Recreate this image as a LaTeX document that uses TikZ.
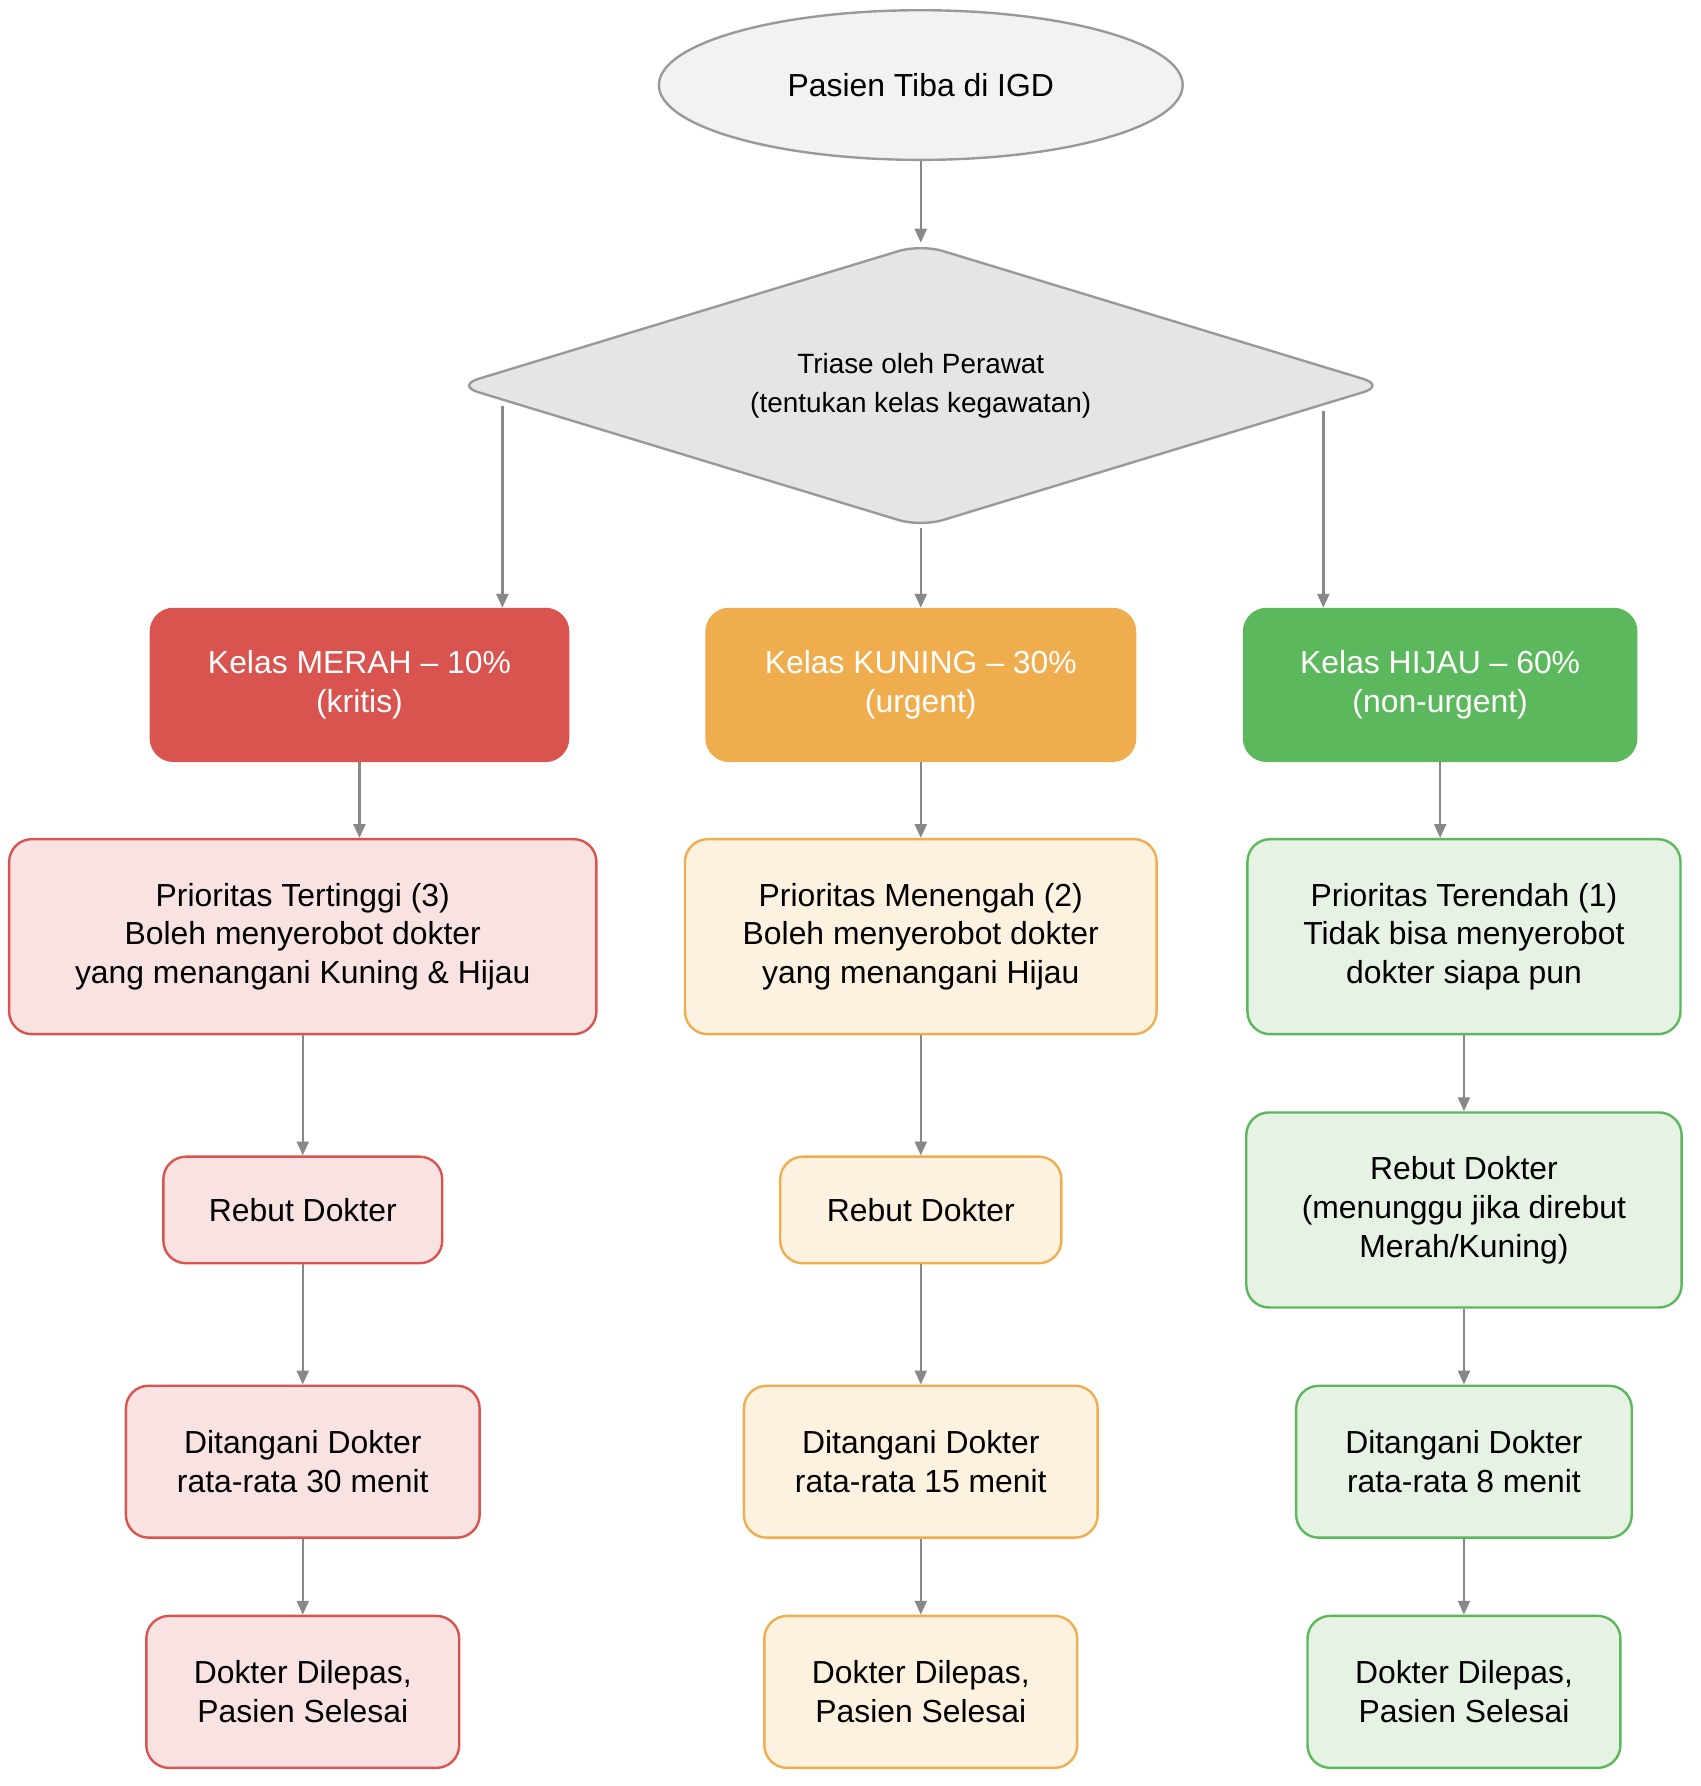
\documentclass[tikz,border=0pt]{standalone}
\usepackage{fontspec}
\setmainfont{Liberation Sans}
\usetikzlibrary{shapes.geometric,arrows.meta,positioning}
\definecolor{edgegray}{HTML}{888888}
\definecolor{linegray}{HTML}{999999}
\definecolor{merah}{HTML}{D9534F}
\definecolor{kuning}{HTML}{F0AD4E}
\definecolor{hijau}{HTML}{5CB85C}
\definecolor{merahlt}{HTML}{F9E2E2}
\definecolor{kuninglt}{HTML}{FDF1E0}
\definecolor{hijault}{HTML}{E6F2E4}
\tikzset{
  box/.style={rectangle, rounded corners=0.4cm, line width=1.2pt, inner sep=0pt, align=center, font=\fontsize{16}{19.5}\selectfont},
  kelas/.style={box, fill=#1, draw=#1, text=white, minimum height=2.68cm},
  langkah/.style={box, fill=#1lt, draw=#1},
  arr/.style={-{Triangle[length=7pt,width=6pt]}, edgegray, line width=1.2pt}
}
\begin{document}
\begin{tikzpicture}[x=0.02cm,y=0.02cm]
\useasboundingbox (0,0) rectangle (1500,-1575);
% start and triage
\node[ellipse, fill=black!5, draw=linegray, line width=1.2pt, minimum width=9.24cm, minimum height=2.64cm, font=\fontsize{16}{19.5}\selectfont] (start) at (812,-75) {Pasien Tiba di IGD};
\node[diamond, rounded corners=0.4cm, fill=black!10, draw=linegray, line width=1.2pt, minimum width=16.4cm, minimum height=5cm, inner sep=0pt, aspect=3.28, align=center, font=\fontsize{14}{19.5}\selectfont] (triase) at (812,-340) {Triase oleh Perawat\\(tentukan kelas kegawatan)};
% kelas
\node[kelas=merah, minimum width=7.36cm] (m1) at (317,-604) {Kelas MERAH -- 10\%\\(kritis)};
\node[kelas=kuning, minimum width=7.56cm] (k1) at (812,-604) {Kelas KUNING -- 30\%\\(urgent)};
\node[kelas=hijau, minimum width=6.92cm] (h1) at (1270,-604) {Kelas HIJAU -- 60\%\\(non-urgent)};
% prioritas
\node[langkah=merah, minimum width=10.36cm, minimum height=3.44cm] (m2) at (267,-826) {Prioritas Tertinggi (3)\\Boleh menyerobot dokter\\yang menangani Kuning \& Hijau};
\node[langkah=kuning, minimum width=8.32cm, minimum height=3.44cm] (k2) at (812,-826) {Prioritas Menengah (2)\\Boleh menyerobot dokter\\yang menangani Hijau};
\node[langkah=hijau, minimum width=7.64cm, minimum height=3.44cm] (h2) at (1291,-826) {Prioritas Terendah (1)\\Tidak bisa menyerobot\\dokter siapa pun};
% rebut
\node[langkah=merah, minimum width=4.92cm, minimum height=1.88cm] (m3) at (267,-1067) {Rebut Dokter};
\node[langkah=kuning, minimum width=4.96cm, minimum height=1.88cm] (k3) at (812,-1067) {Rebut Dokter};
\node[langkah=hijau, minimum width=7.68cm, minimum height=3.44cm] (h3) at (1291,-1067) {Rebut Dokter\\(menunggu jika direbut\\Merah/Kuning)};
% ditangani
\node[langkah=merah, minimum width=6.24cm, minimum height=2.68cm] (m4) at (267,-1289) {Ditangani Dokter\\rata-rata 30 menit};
\node[langkah=kuning, minimum width=6.24cm, minimum height=2.68cm] (k4) at (812,-1289) {Ditangani Dokter\\rata-rata 15 menit};
\node[langkah=hijau, minimum width=5.92cm, minimum height=2.68cm] (h4) at (1291,-1289) {Ditangani Dokter\\rata-rata 8 menit};
% selesai
\node[langkah=merah, minimum width=5.52cm, minimum height=2.68cm] (m5) at (267,-1492) {Dokter Dilepas,\\Pasien Selesai};
\node[langkah=kuning, minimum width=5.52cm, minimum height=2.68cm] (k5) at (812,-1492) {Dokter Dilepas,\\Pasien Selesai};
\node[langkah=hijau, minimum width=5.52cm, minimum height=2.68cm] (h5) at (1291,-1492) {Dokter Dilepas,\\Pasien Selesai};
% connectors
\coordinate (tl) at (443,-358);
\coordinate (tr) at (1167,-362);
\draw[arr] (start) -- (triase);
\draw[arr] (tl) -- (tl |- m1.north);
\draw[arr] (triase) -- (k1);
\draw[arr] (tr) -- (tr |- h1.north);
\foreach \c in {m,k,h} {
  \draw[arr] (\c1.south) -- (\c1.south |- \c2.north);
  \draw[arr] (\c2) -- (\c3);
  \draw[arr] (\c3) -- (\c4);
  \draw[arr] (\c4) -- (\c5);
}
\end{tikzpicture}
\end{document}
